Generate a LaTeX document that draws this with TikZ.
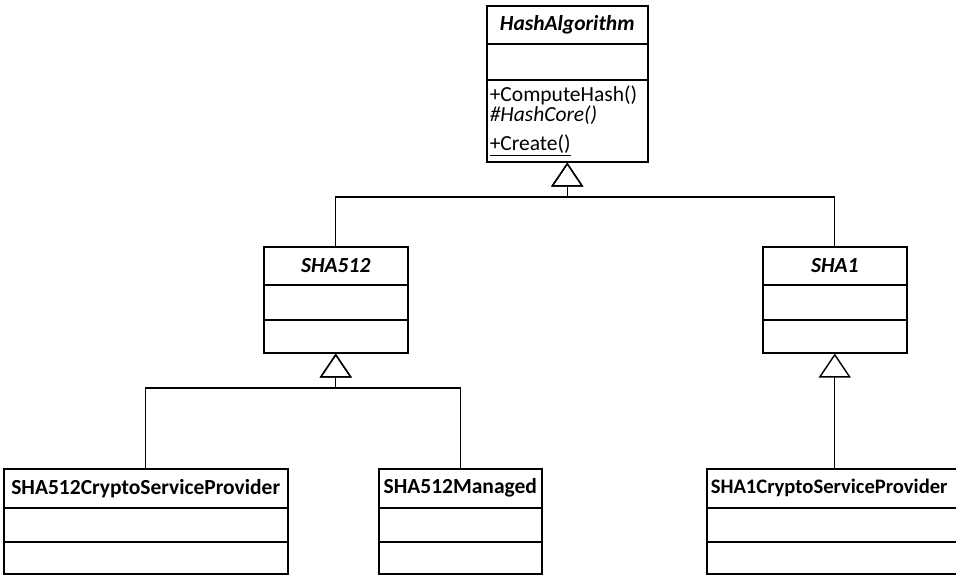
\documentclass[tikz,border=0pt]{standalone}
\usepackage{fontspec}
\setmainfont{Carlito}
\usetikzlibrary{shapes.multipart,arrows.meta}

% one compartment of a class box: width, height, content
\newcommand{\compart}[3]{\parbox[c][#2][c]{#1}{#3}}

\begin{document}
\begin{tikzpicture}[x=1pt, y=-1pt,
		umlclass/.style={draw, line width=1.5pt, rectangle split, rectangle split parts=3,
			inner sep=0pt, anchor=north west, font=\fontsize{21.5}{20}\selectfont},
		inherit/.style={line width=1.1pt, -{Triangle[open, length=24pt, width=32pt, line width=1.4pt]}}]

	\useasboundingbox (0,0) rectangle (956,574);

	% classes
	\node[umlclass] (hash) at (486,5)
		{\compart{161pt}{36.5pt}{\centering\bfseries\itshape HashAlgorithm}
		\nodepart{two}\compart{161pt}{34.5pt}{}
		\nodepart{three}\compart{161pt}{80.5pt}{\raggedright\leftskip=3pt
			+ComputeHash()\\
			\textit{\#HashCore()}\\[9pt]
			\underline{+Create()}}};
	\node[umlclass] (sha512) at (263,246)
		{\compart{144pt}{36.5pt}{\centering\bfseries\itshape SHA512}
		\nodepart{two}\compart{144pt}{33.5pt}{}
		\nodepart{three}\compart{144pt}{31.5pt}{}};
	\node[umlclass] (sha1) at (762,246)
		{\compart{144pt}{36.5pt}{\centering\bfseries\itshape SHA1}
		\nodepart{two}\compart{144pt}{33.5pt}{}
		\nodepart{three}\compart{144pt}{31.5pt}{}};
	\node[umlclass] (csp512) at (3,468)
		{\compart{284pt}{37.5pt}{\centering\bfseries SHA512CryptoServiceProvider}
		\nodepart{two}\compart{284pt}{32.5pt}{}
		\nodepart{three}\compart{284pt}{30.5pt}{}};
	\node[umlclass] (managed512) at (378,468)
		{\compart{163pt}{37.5pt}{\centering\bfseries SHA512Managed}
		\nodepart{two}\compart{163pt}{32.5pt}{}
		\nodepart{three}\compart{163pt}{30.5pt}{}};
	\node[umlclass] (csp1) at (706,468)
		{\compart{256pt}{37.5pt}{\hspace*{4pt}\fontsize{20.6}{20}\selectfont\bfseries SHA1CryptoServiceProvider}
		\nodepart{two}\compart{256pt}{32.5pt}{}
		\nodepart{three}\compart{256pt}{30.5pt}{}};

	% generalisation
	\coordinate (topbus) at (0,197);
	\coordinate (midbus) at (0,388);
	\draw[inherit] (sha512.north) |- (hash.south |- topbus) -- (hash.south);
	\draw[inherit] (sha1.north) |- (hash.south |- topbus) -- (hash.south);
	\draw[inherit] (csp512.north) |- (sha512.south |- midbus) -- (sha512.south);
	\draw[inherit] (managed512.north) |- (sha512.south |- midbus) -- (sha512.south);
	\draw[inherit] (csp1.north) -- (sha1.south);
\end{tikzpicture}
\end{document}
